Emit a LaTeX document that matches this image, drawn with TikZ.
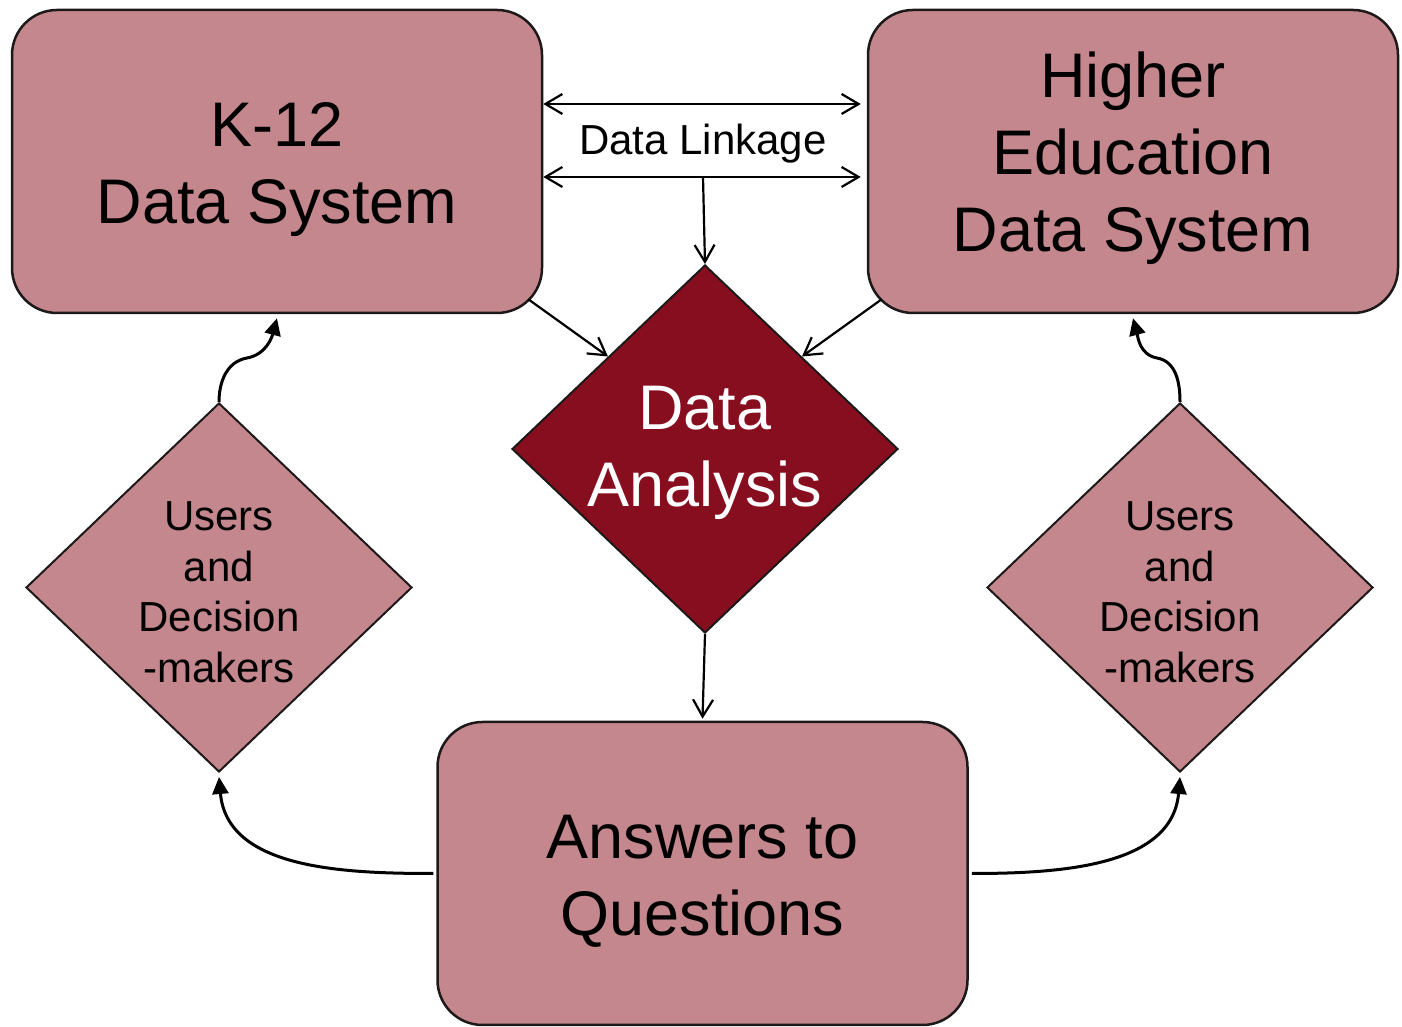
\documentclass[tikz,border=0pt]{standalone}
\usepackage{fontspec}
\setmainfont{Liberation Sans}
\usetikzlibrary{shapes.geometric,arrows.meta,calc}
\definecolor{pinkfill}{RGB}{196,135,141}
\definecolor{darkred}{RGB}{135,14,30}
\definecolor{edgecol}{RGB}{30,25,25}
\newcommand{\tstrut}[1]{\rule{0pt}{#1}}
\begin{document}
\begin{tikzpicture}[x=1pt,y=1pt,
  box/.style={draw=edgecol, line width=2.5pt, fill=pinkfill, rounded corners=45pt,
    minimum width=530pt, minimum height=303pt, inner sep=0pt, align=center,
    font=\fontsize{63}{77}\selectfont},
  userdia/.style={diamond, draw=edgecol, line width=2pt, fill=pinkfill, inner sep=0pt,
    shape aspect=1.046, minimum width=386pt, minimum height=369pt, align=center,
    font=\fontsize{42}{50.5}\selectfont},
  anadia/.style={diamond, draw=edgecol, line width=2pt, fill=darkred, text=white, inner sep=0pt,
    shape aspect=1.049, minimum width=386pt, minimum height=368pt, align=center,
    font=\fontsize{63}{77}\selectfont},
  arr/.style={line width=2.2pt, -{Straight Barb[length=17pt,width=20pt,line width=2.2pt]}},
  biarr/.style={line width=2.2pt, {Straight Barb[length=17pt,width=20pt,line width=2.2pt]}-{Straight Barb[length=17pt,width=20pt,line width=2.2pt]}},
  curarr/.style={line width=3pt, -{Triangle[length=17pt,width=16pt]}},
  lbl/.style={font=\fontsize{42}{50}\selectfont, inner sep=0pt}
]
\useasboundingbox (0,0) rectangle (1402,1027);
\fill[white] (0,0) rectangle (1402,1027);

\node[box] (k12) at (277,865.5) {\tstrut{61pt}K-12\\Data System};
\node[box] (he) at (1133,865.5) {Higher\\Education\\Data System\rule[-20pt]{0pt}{0pt}};
\node[box] (ans) at (702.5,153.5) {\tstrut{59pt}Answers to\\Questions};
\node[anadia] (da) at (705,578) {\tstrut{52pt}Data\\Analysis};
\node[userdia] (ud1) at (219,439.5) {\tstrut{38pt}Users\\and\\Decision\\-makers};
\node[userdia] (ud2) at (1180,439.5) {\tstrut{38pt}Users\\and\\Decision\\-makers};

\node[lbl] (lk) at (703,883) {Data Linkage};
\coordinate (lkb) at (703,850);
\coordinate (m1) at (247,669);
\coordinate (m2) at (1157,669);

\draw[biarr] ([yshift=57.5pt]k12.east) -- ([xshift=-6pt,yshift=57.5pt]he.west);
\draw[biarr] ([yshift=-15.5pt]k12.east) -- ([xshift=-6pt,yshift=-15.5pt]he.west);
\draw[arr] (lkb) -- (da.north);
\draw[arr] ([xshift=-15pt,yshift=15pt]k12.south east) -- (da.north west);
\draw[arr] ([xshift=15pt,yshift=15pt]he.south west) -- (da.north east);
\draw[arr] (da.south) -- ([yshift=2pt]ans.north);

\draw[curarr] ([xshift=-3pt]ans.west) to[out=180,in=-85] ([yshift=-4pt]ud1.south);
\draw[curarr] ([xshift=3pt]ans.east) to[out=0,in=-95] ([yshift=-4pt]ud2.south);
\draw[curarr] (ud1.north) to[out=90,in=190] (m1) to[out=10,in=-105] ([yshift=-4pt]k12.south);
\draw[curarr] (ud2.north) to[out=90,in=-10] (m2) to[out=170,in=-75] ([yshift=-4pt]he.south);
\end{tikzpicture}
\end{document}
